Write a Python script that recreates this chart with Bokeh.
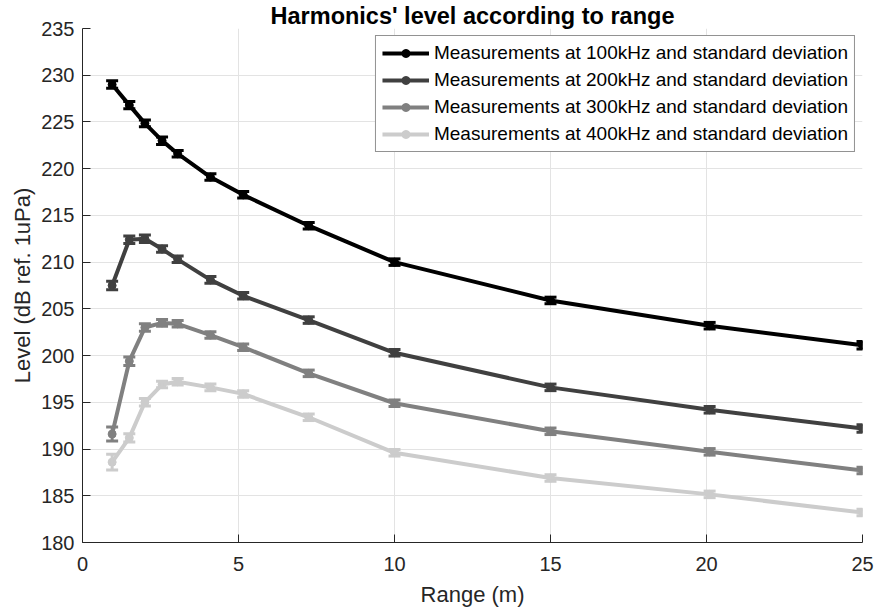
from bokeh.plotting import figure
from bokeh.models import (ColumnDataSource, Whisker, TeeHead, Legend, LegendItem,
                          FixedTicker, Range1d)
from bokeh.embed import file_html
from bokeh.resources import INLINE

# ---- data ----
range_m = [0.95, 1.5, 2.0, 2.55, 3.05, 4.1, 5.15, 7.25, 10.0, 15.0, 20.1, 25.0]

lvl_100k = [229.0, 226.8, 224.85, 223.0, 221.6, 219.1, 217.2, 213.9, 210.0, 205.9, 203.2, 201.1]
lvl_200k = [207.5, 212.4, 212.5, 211.4, 210.3, 208.1, 206.4, 203.8, 200.3, 196.6, 194.2, 192.2]
lvl_300k = [191.6, 199.4, 203.0, 203.5, 203.4, 202.2, 200.9, 198.1, 194.9, 191.9, 189.7, 187.7]
lvl_400k = [188.6, 191.2, 195.0, 196.9, 197.2, 196.6, 195.9, 193.4, 189.6, 186.9, 185.15, 183.2]

std_100k = [0.4, 0.4, 0.35, 0.4, 0.35, 0.35, 0.35, 0.35, 0.35, 0.35, 0.35, 0.4]
std_200k = [0.45, 0.4, 0.4, 0.35, 0.35, 0.35, 0.35, 0.35, 0.35, 0.35, 0.35, 0.4]
std_300k = [0.75, 0.45, 0.4, 0.35, 0.35, 0.35, 0.35, 0.35, 0.35, 0.35, 0.35, 0.35]
std_400k = [0.85, 0.45, 0.4, 0.35, 0.35, 0.35, 0.35, 0.35, 0.35, 0.35, 0.35, 0.35]

series_labels = ["Measurements at 100kHz and standard deviation",
                 "Measurements at 200kHz and standard deviation",
                 "Measurements at 300kHz and standard deviation",
                 "Measurements at 400kHz and standard deviation"]
series_colors = ["#000000", "#404040", "#808080", "#cccccc"]

x_ticks = [0, 5, 10, 15, 20, 25]
y_ticks = [180, 185, 190, 195, 200, 205, 210, 215, 220, 225, 230, 235]

title_text = "Harmonics' level according to range"
x_label = "Range (m)"
y_label = "Level (dB ref. 1uPa)"

FONT = "Liberation Sans"
AX = "#262626"

p = figure(width=878, height=613, output_backend="svg", toolbar_location=None,
           x_range=Range1d(0, 25), y_range=Range1d(180, 235),
           min_border_left=82, min_border_right=16, min_border_top=0,
           min_border_bottom=71)
p.background_fill_color = "white"
p.border_fill_color = "white"
p.outline_line_color = None

p.title.text = title_text
p.title.align = "center"
p.title.text_font = FONT
p.title.text_font_size = "23.5px"
p.title.text_font_style = "bold"
p.title.text_color = "#000000"
p.title.standoff = 0

for ax in (p.xaxis[0], p.yaxis[0]):
    ax.axis_line_color = AX
    ax.major_tick_line_color = AX
    ax.major_tick_in = 8
    ax.major_tick_out = 0
    ax.minor_tick_line_color = None
    ax.major_label_text_font = FONT
    ax.major_label_text_font_size = "20px"
    ax.major_label_text_color = AX
    ax.axis_label_text_font = FONT
    ax.axis_label_text_font_size = "22px"
    ax.axis_label_text_font_style = "normal"
    ax.axis_label_text_color = AX

p.xaxis.ticker = FixedTicker(ticks=x_ticks)
p.yaxis.ticker = FixedTicker(ticks=y_ticks)
p.xaxis.axis_label = x_label
p.yaxis.axis_label = y_label
p.xaxis.major_label_standoff = 14
p.xaxis.axis_label_standoff = 8
p.yaxis.major_label_standoff = 8
p.yaxis.axis_label_standoff = 3

p.xgrid.ticker = FixedTicker(ticks=x_ticks)
p.ygrid.ticker = FixedTicker(ticks=y_ticks)
for g in (p.xgrid[0], p.ygrid[0]):
    g.grid_line_color = "#e3e3e3"
    g.grid_line_width = 1

all_levels = [lvl_100k, lvl_200k, lvl_300k, lvl_400k]
all_std = [std_100k, std_200k, std_300k, std_400k]

items = []
for lab, col, lv, sd in zip(series_labels, series_colors, all_levels, all_std):
    src = ColumnDataSource(dict(
        x=range_m, y=lv,
        lo=[a - b for a, b in zip(lv, sd)],
        hi=[a + b for a, b in zip(lv, sd)]))
    lr = p.line("x", "y", source=src, line_color=col, line_width=4)
    wk = Whisker(base="x", upper="hi", lower="lo", source=src, dimension="height",
                 line_color=col, line_width=3, level="glyph",
                 upper_head=TeeHead(size=12, line_color=col, line_width=3),
                 lower_head=TeeHead(size=12, line_color=col, line_width=3))
    p.add_layout(wk)
    cr = p.scatter("x", "y", source=src, marker="circle", size=8,
                   fill_color=col, line_color=col)
    items.append(LegendItem(label=lab, renderers=[lr, cr]))

legend = Legend(items=items, location="top_right", margin=7,
                padding=6, spacing=5, glyph_width=47, glyph_height=20,
                label_height=20, label_standoff=5,
                label_text_font=FONT, label_text_font_size="19px",
                label_text_color="#000000",
                border_line_color=AX, border_line_width=1,
                background_fill_color="white", background_fill_alpha=1.0)
p.add_layout(legend, "center")

open("out.html", "w").write(file_html(p, INLINE))
